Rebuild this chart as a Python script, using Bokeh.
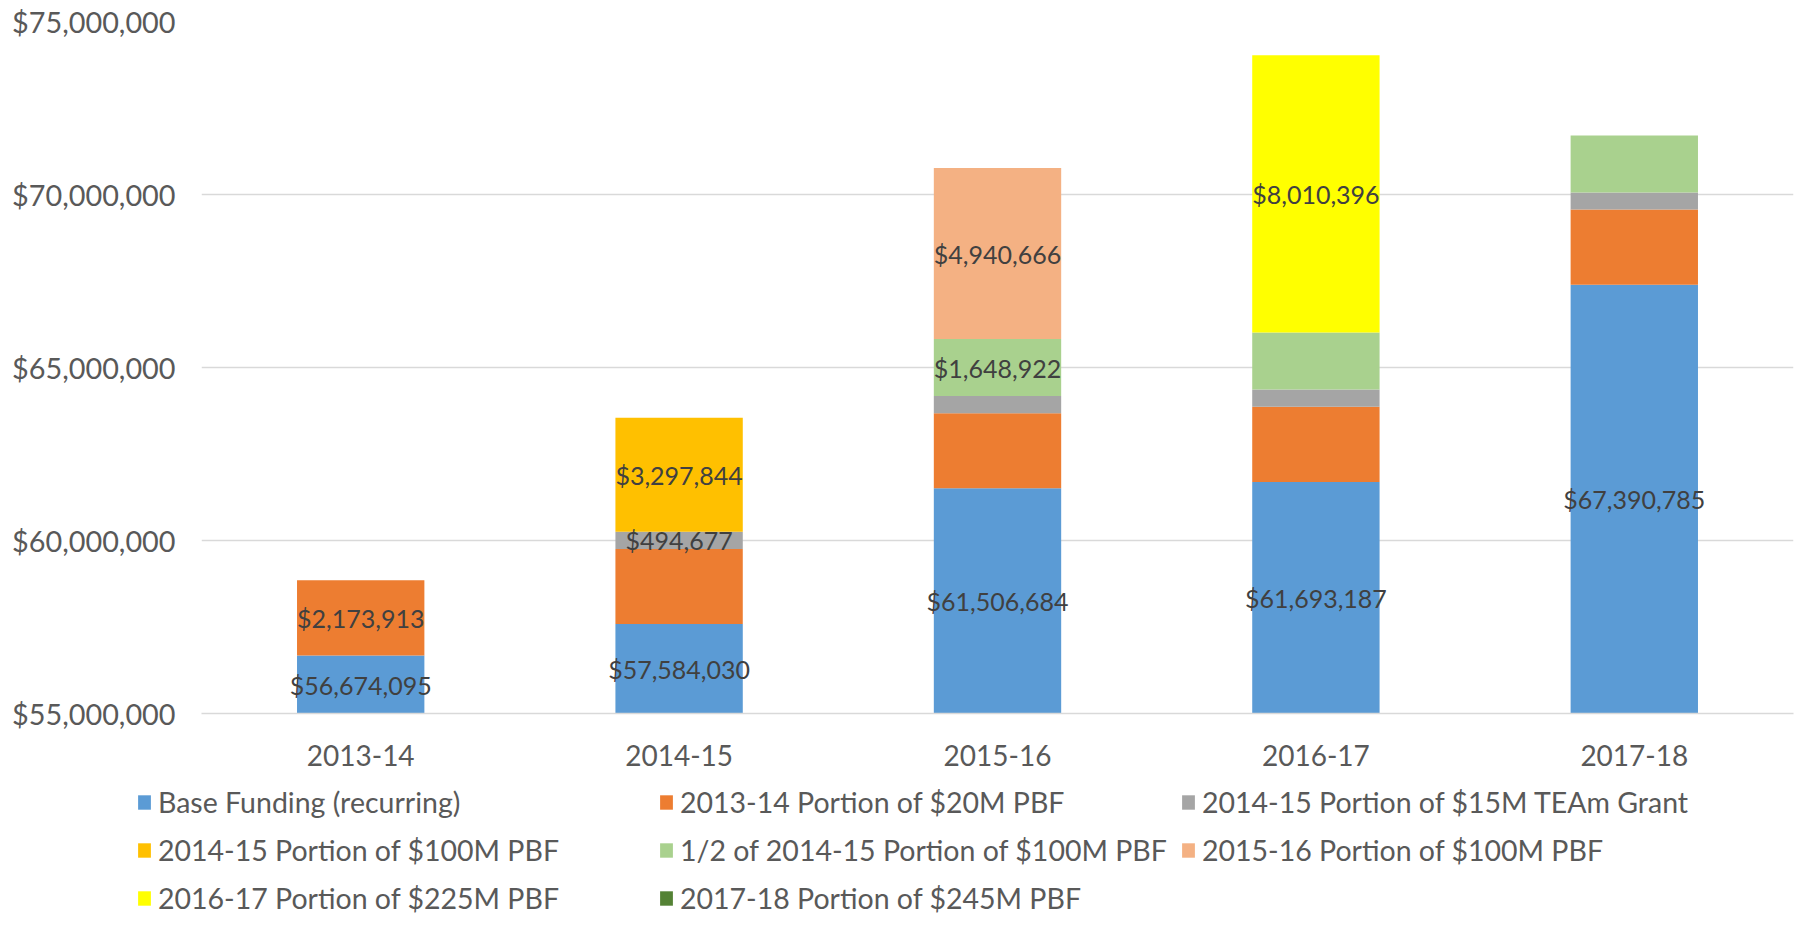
from bokeh.plotting import figure
from bokeh.layouts import column, row
from bokeh.models import (ColumnDataSource, FactorRange, Range1d, Legend, LegendItem,
                          NumeralTickFormatter, SingleIntervalTicker)
from bokeh.core.properties import value
from bokeh.embed import file_html
from bokeh.resources import INLINE

years = ["2013-14", "2014-15", "2015-16", "2016-17", "2017-18"]

series_keys = ["base", "pbf20", "team", "pbf100_1415", "half_1415", "pbf100_1516", "pbf225", "pbf245"]
series_names = [
    "Base Funding (recurring)",
    "2013-14 Portion of $20M PBF",
    "2014-15 Portion of $15M TEAm Grant",
    "2014-15 Portion of $100M PBF",
    "1/2 of 2014-15 Portion of $100M PBF",
    "2015-16 Portion of $100M PBF",
    "2016-17 Portion of $225M PBF",
    "2017-18 Portion of $245M PBF",
]
series_colors = ["#5B9BD5", "#ED7D31", "#A5A5A5", "#FFC000", "#A9D18E", "#F4B183", "#FFFF00", "#548235"]

base = [56674095, 57584030, 61506684, 61693187, 67390785]
pbf20 = [2173913, 2173913, 2173913, 2173913, 2173913]
team = [0, 494677, 494677, 494677, 494677]
pbf100_1415 = [0, 3297844, 0, 0, 0]
half_1415 = [0, 0, 1648922, 1648922, 1648922]
pbf100_1516 = [0, 0, 4940666, 0, 0]
pbf225 = [0, 0, 0, 8010396, 0]
pbf245 = [0, 0, 0, 0, 0]

# which segments carry a data label
label_base = [1, 1, 1, 1, 1]
label_pbf20 = [1, 0, 0, 0, 0]
label_team = [0, 1, 0, 0, 0]
label_pbf100_1415 = [0, 1, 0, 0, 0]
label_half_1415 = [0, 0, 1, 0, 0]
label_pbf100_1516 = [0, 0, 1, 0, 0]
label_pbf225 = [0, 0, 0, 1, 0]
label_pbf245 = [0, 0, 0, 0, 0]

y_min, y_max, y_step = 55_000_000, 75_000_000, 5_000_000

series_values = [base, pbf20, team, pbf100_1415, half_1415, pbf100_1516, pbf225, pbf245]
series_labels = [label_base, label_pbf20, label_team, label_pbf100_1415, label_half_1415,
                 label_pbf100_1516, label_pbf225, label_pbf245]

data = {"year": years}
for k, v in zip(series_keys, series_values):
    data[k] = v
src = ColumnDataSource(data)

FONT = "Lato"
AXIS_COLOR = "#595959"
W = 1794
H_TOP = 774
H_LEG = 142

p = figure(width=W, height=H_TOP, output_backend="svg", toolbar_location=None,
           x_range=FactorRange(*years, range_padding=0),
           y_range=Range1d(y_min, y_max),
           min_border_left=201, min_border_right=1, min_border_top=21,
           min_border_bottom=H_TOP - 21 - 692)
p.outline_line_color = None

p.vbar_stack(series_keys, x="year", width=0.4, color=series_colors, source=src, line_color=None)

# data labels, centred on the visible part of each labelled segment
lx, ly, lt = [], [], []
for i, yr in enumerate(years):
    cum = 0
    for vals, flags in zip(series_values, series_labels):
        bot = cum
        top = cum + vals[i]
        cum = top
        if flags[i] and vals[i] > 0:
            vb = max(bot, y_min)
            lx.append(yr)
            ly.append((vb + top) / 2)
            lt.append("${:,}".format(vals[i]))
lsrc = ColumnDataSource(dict(x=lx, y=ly, t=lt))
p.text(x="x", y="y", text="t", source=lsrc, text_align="center", text_baseline="middle",
       text_font=value(FONT), text_font_size="25px", text_color="#404040")

# axes
p.yaxis.ticker = SingleIntervalTicker(interval=y_step)
p.yaxis.formatter = NumeralTickFormatter(format="$0,0")
p.yaxis.axis_line_color = None
p.yaxis.major_tick_line_color = None
p.yaxis.minor_tick_line_color = None
p.yaxis.major_label_standoff = 20
p.yaxis.major_label_text_font = FONT
p.yaxis.major_label_text_font_size = "28.8px"
p.yaxis.major_label_text_color = AXIS_COLOR

p.xaxis.axis_line_color = "#D9D9D9"
p.xaxis.axis_line_width = 1.5
p.xaxis.major_tick_line_color = None
p.xaxis.minor_tick_line_color = None
p.xaxis.major_label_standoff = 25
p.xaxis.major_label_text_font = FONT
p.xaxis.major_label_text_font_size = "28px"
p.xaxis.major_label_text_color = AXIS_COLOR

p.xgrid.grid_line_color = None
p.ygrid.grid_line_color = "#D9D9D9"
p.ygrid.grid_line_width = 1.5

# legend in its own strip below the chart (its renderers are hidden copies of the bars)
q = figure(width=W, height=H_LEG, output_backend="svg", toolbar_location=None,
           x_range=FactorRange(*years, range_padding=0), y_range=Range1d(y_min, y_max),
           x_axis_location=None, y_axis_location=None,
           min_border_left=0, min_border_right=0, min_border_top=0, min_border_bottom=0)
q.outline_line_color = None
q.grid.grid_line_color = None
q_renderers = q.vbar_stack(series_keys, x="year", width=0.4, color=series_colors, source=src,
                           line_color=None)
for r in q_renderers:
    r.visible = False
items = [LegendItem(label=n, renderers=[r]) for n, r in zip(series_names, q_renderers)]
legend = Legend(items=items, location=(136, 0), orientation="horizontal", ncols=3,
                glyph_width=16, glyph_height=18, label_standoff=6, label_width=488,
                label_height=36, spacing=12, padding=0, margin=0,
                border_line_color=None, background_fill_alpha=0,
                inactive_fill_alpha=0,
                label_text_font=FONT, label_text_font_size="28.5px",
                label_text_color=AXIS_COLOR)
q.add_layout(legend, "center")

layout = column(p, row(q, spacing=0), spacing=0)
open("out.html", "w").write(file_html(layout, INLINE))
